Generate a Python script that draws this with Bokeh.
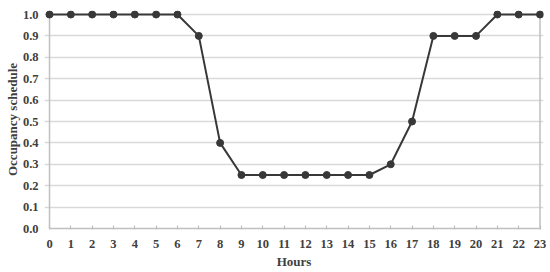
from bokeh.plotting import figure
from bokeh.models import Range1d, Span, FixedTicker, CustomJSTickFormatter
from bokeh.embed import file_html
from bokeh.resources import INLINE

hours = list(range(24))
occupancy = [1.0, 1.0, 1.0, 1.0, 1.0, 1.0, 1.0, 0.9, 0.4, 0.25, 0.25, 0.25,
             0.25, 0.25, 0.25, 0.25, 0.3, 0.5, 0.9, 0.9, 0.9, 1.0, 1.0, 1.0]
y_ticks = [0.0, 0.1, 0.2, 0.3, 0.4, 0.5, 0.6, 0.7, 0.8, 0.9, 1.0]

FONT = "Liberation Serif"
TEXT = "#404040"
AXIS = "#bfbfbf"
GRID = "#d9d9d9"
LINE = "#383838"

p = figure(width=550, height=272, output_backend="svg", toolbar_location=None,
           x_range=Range1d(-0.235, 23.164), y_range=Range1d(0, 1.0187),
           min_border_left=44, min_border_right=7, min_border_top=10,
           min_border_bottom=44)
p.outline_line_color = None
p.background_fill_color = "white"
p.border_fill_color = "white"

p.xgrid.grid_line_color = None
p.ygrid.grid_line_color = GRID
p.ygrid.grid_line_width = 1.5
p.ygrid.ticker = FixedTicker(ticks=y_ticks)

p.xaxis.ticker = FixedTicker(ticks=hours)
p.xaxis.bounds = (0, 23)
p.xaxis.axis_line_color = AXIS
p.xaxis.axis_line_width = 1.5
p.xaxis.major_tick_line_color = AXIS
p.xaxis.major_tick_line_width = 1.2
p.xaxis.major_tick_in = 3
p.xaxis.major_tick_out = 1
p.xaxis.minor_tick_line_color = None
p.xaxis.major_label_standoff = 10
p.xaxis.axis_label = "Hours"
p.xaxis.axis_label_standoff = 3

p.yaxis.ticker = FixedTicker(ticks=y_ticks)
p.yaxis.formatter = CustomJSTickFormatter(code="return tick.toFixed(1);")
p.yaxis.axis_line_color = None
p.yaxis.major_tick_line_color = None
p.yaxis.minor_tick_line_color = None
p.yaxis.major_tick_in = 0
p.yaxis.major_tick_out = 0
p.yaxis.major_label_standoff = 6
p.yaxis.axis_label = "Occupancy schedule"
p.yaxis.axis_label_standoff = 0

for ax in (p.xaxis, p.yaxis):
    ax.major_label_text_font = FONT
    ax.major_label_text_font_style = "bold"
    ax.major_label_text_font_size = "12.5px"
    ax.major_label_text_color = TEXT
    ax.axis_label_text_font = FONT
    ax.axis_label_text_font_style = "bold"
    ax.axis_label_text_font_size = "13px"
    ax.axis_label_text_color = TEXT

p.add_layout(Span(location=0, dimension="height", line_color=AXIS,
                  line_width=1.5, level="underlay"))
p.add_layout(Span(location=23, dimension="height", line_color=AXIS,
                  line_width=1.5, level="underlay"))

p.line(hours, occupancy, line_color=LINE, line_width=2)
p.scatter(hours, occupancy, size=7, fill_color=LINE, line_color=LINE)

open("out.html", "w").write(file_html(p, INLINE))
